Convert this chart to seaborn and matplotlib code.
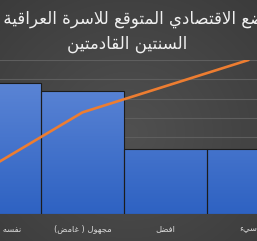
import numpy as np
import pandas as pd
import matplotlib
matplotlib.use("Agg")
import matplotlib.pyplot as plt
import seaborn as sns

# ---- data ----
categories = ["نفسه الحالي", "مجهول ( غامض)", "افضل", "سيء"]
values = [34, 32, 17, 17]
title_lines = ["الوضع الاقتصادي المتوقع للاسرة العراقية خلال", "السنتين القادمتين"]
y_max = 40

# ---- minimal Arabic shaping + RTL ordering (matplotlib has no shaper) ----
FORMS = {
    'ء': (0xFE80, 1), 'آ': (0xFE81, 2), 'أ': (0xFE83, 2), 'ؤ': (0xFE85, 2), 'إ': (0xFE87, 2),
    'ئ': (0xFE89, 4), 'ا': (0xFE8D, 2), 'ب': (0xFE8F, 4), 'ة': (0xFE93, 2), 'ت': (0xFE95, 4),
    'ث': (0xFE99, 4), 'ج': (0xFE9D, 4), 'ح': (0xFEA1, 4), 'خ': (0xFEA5, 4), 'د': (0xFEA9, 2),
    'ذ': (0xFEAB, 2), 'ر': (0xFEAD, 2), 'ز': (0xFEAF, 2), 'س': (0xFEB1, 4), 'ش': (0xFEB5, 4),
    'ص': (0xFEB9, 4), 'ض': (0xFEBD, 4), 'ط': (0xFEC1, 4), 'ظ': (0xFEC5, 4), 'ع': (0xFEC9, 4),
    'غ': (0xFECD, 4), 'ف': (0xFED1, 4), 'ق': (0xFED5, 4), 'ك': (0xFED9, 4), 'ل': (0xFEDD, 4),
    'م': (0xFEE1, 4), 'ن': (0xFEE5, 4), 'ه': (0xFEE9, 4), 'و': (0xFEED, 2), 'ى': (0xFEEF, 2),
    'ي': (0xFEF1, 4),
}
LAM_ALEF = {'ا': 0xFEFB, 'أ': 0xFEF7, 'إ': 0xFEF9, 'آ': 0xFEF5}


def shape_rtl(text):
    out = []
    n = len(text)
    i = 0
    prev_joins = False
    while i < n:
        c = text[i]
        if c == 'ل' and i + 1 < n and text[i + 1] in LAM_ALEF:
            out.append(chr(LAM_ALEF[text[i + 1]] + (1 if prev_joins else 0)))
            prev_joins = False
            i += 2
            continue
        if c in FORMS:
            base, nf = FORMS[c]
            nxt = text[i + 1] if i + 1 < n else None
            if nf == 1:
                out.append(chr(base))
                prev_joins = False
            elif nf == 2:
                out.append(chr(base + (1 if prev_joins else 0)))
                prev_joins = False
            else:
                join_next = nxt in FORMS and FORMS[nxt][1] > 1
                if prev_joins and join_next:
                    idx = 3
                elif prev_joins:
                    idx = 1
                elif join_next:
                    idx = 2
                else:
                    idx = 0
                out.append(chr(base + idx))
                prev_joins = join_next
        else:
            out.append(c)
            prev_joins = False
        i += 1
    mirror = {'(': ')', ')': '('}
    return ''.join(mirror.get(ch, ch) for ch in reversed(out))


# ---- figure ----
sns.set_style("white")
plt.rcParams['font.family'] = ['DejaVu Sans']

W, H = 257, 241
fig = plt.figure(figsize=(W / 100, H / 100), dpi=100)

# background radial gradient
bg = fig.add_axes([0, 0, 1, 1], zorder=-10)
yy, xx = np.mgrid[0:H, 0:W]
r = np.sqrt(((xx - W * 0.5) / (W * 0.8)) ** 2 + ((yy - H * 0.55) / (H * 0.8)) ** 2)
r = np.clip(r, 0, 1)
c_in = np.array([0x50, 0x50, 0x50]) / 255
c_out = np.array([0x3a, 0x3a, 0x3a]) / 255
img = c_in[None, None, :] * (1 - r[..., None]) + c_out[None, None, :] * r[..., None]
bg.imshow(img, aspect='auto', extent=(0, 1, 0, 1))
bg.axis('off')

# main axes (original plot area extends past the figure edges)
ax = fig.add_axes([-42 / W, 27 / H, 332 / W, 154 / H])
ax.set_facecolor('none')

df = pd.DataFrame({"cat": categories, "val": values})
sns.barplot(data=df, x="cat", y="val", ax=ax, width=1.0, color="#4472C4",
            edgecolor="#1c1c1c", linewidth=0.8, zorder=2)

ax.set_xlim(-0.5, len(categories) - 0.5)
ax.set_ylim(0, y_max)

# vertical gradient fill for bars
grad = np.linspace(0, 1, 256)[:, None]
top_c = np.array([0x62, 0x8A, 0xD8]) / 255
bot_c = np.array([0x2E, 0x62, 0xC2]) / 255
gimg = top_c[None, None, :] * (1 - grad[..., None]) + bot_c[None, None, :] * grad[..., None]
gimg = np.repeat(gimg, 2, axis=1)
for p in list(ax.patches):
    im = ax.imshow(gimg, aspect='auto', extent=(-0.5, len(categories) - 0.5, 0, y_max),
                   zorder=2.5, interpolation='bilinear')
    im.set_clip_path(p)
    p.set_facecolor('none')
    p.set_zorder(3)
ax.set_xlim(-0.5, len(categories) - 0.5)
ax.set_ylim(0, y_max)

# gridlines
ax.set_yticks(np.arange(0, y_max + 1, 5))
ax.yaxis.grid(True, color="#5e5e5e", linewidth=0.8)
ax.set_axisbelow(True)
ax.tick_params(axis='y', left=False, labelleft=False)
ax.tick_params(axis='x', bottom=False, pad=4, labelsize=6, labelcolor="#d9d9d9")
ax.set_xticks(range(len(categories)))
ax.set_xticklabels([shape_rtl(c) for c in categories])
ax.set_xlabel("")
ax.set_ylabel("")
for s in ax.spines.values():
    s.set_visible(False)

# cumulative percentage line (Pareto)
cum = np.cumsum(values) / np.sum(values) * 100
ax2 = ax.twinx()
ax2.set_facecolor('none')
sns.lineplot(x=np.arange(len(categories)), y=cum, ax=ax2, color="#ED7D31",
             linewidth=1.9, zorder=5)
ax2.set_ylim(0, 100)
ax2.set_xlim(-0.5, len(categories) - 0.5)
ax2.tick_params(axis='y', right=False, labelright=False)
ax2.set_ylabel("")
for s in ax2.spines.values():
    s.set_visible(False)

# title
fig.text(124 / W, 1 - 19 / H, shape_rtl(title_lines[0]), ha='center', va='center',
         fontsize=12, color="#f0f0f0")
fig.text(127 / W, 1 - 44 / H, shape_rtl(title_lines[1]), ha='center', va='center',
         fontsize=12, color="#f0f0f0")

fig.savefig("out.png", dpi=100)
